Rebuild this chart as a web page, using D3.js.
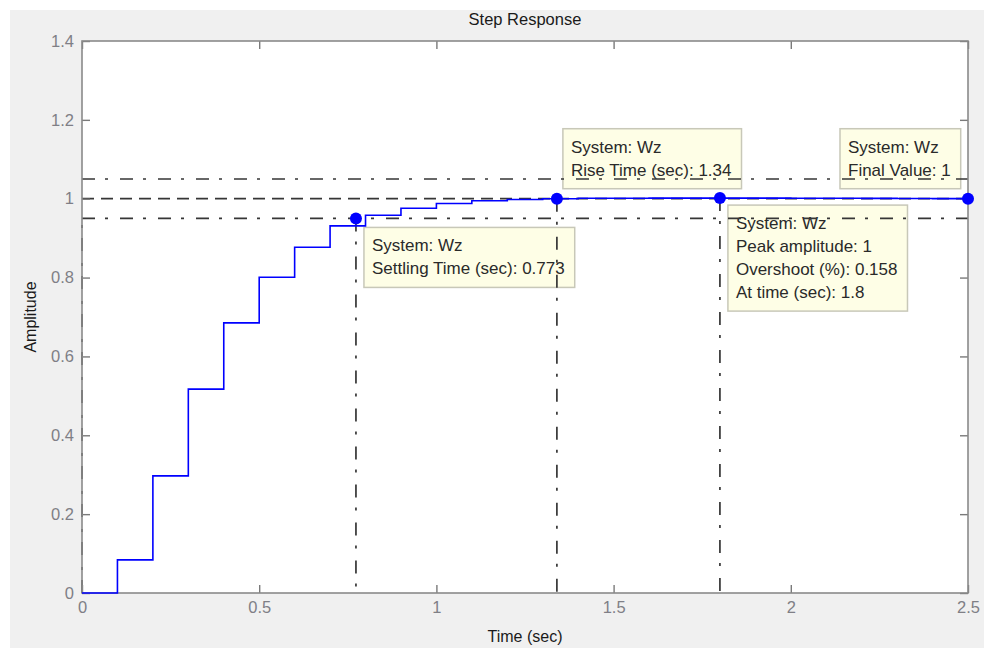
<!DOCTYPE html>
<html>
<head>
<meta charset="utf-8">
<title>Step Response</title>
<script src="https://d3js.org/d3.v7.min.js"></script>
<style>
  body { margin: 0; background: #fff; }
  svg text { font-family: "Liberation Sans", Arial, sans-serif; }
</style>
</head>
<body>
<div id="chart"></div>
<script>
"use strict"

// sampled step response of Wz (Ts = 0.1 s)
var tempos = [0, 0.1, 0.2, 0.3, 0.4, 0.5, 0.6, 0.7, 0.8, 0.9, 1.0, 1.1, 1.2, 1.3,
              1.4, 1.5, 1.6, 1.7, 1.8, 1.9, 2.0, 2.1, 2.2, 2.3, 2.4, 2.5];
var amplitude = [0, 0.084, 0.297, 0.517, 0.685, 0.801, 0.877, 0.931, 0.958, 0.976,
                 0.988, 0.995, 0.998, 1.0, 1.001, 1.0013, 1.0015, 1.0016, 1.00158, 1.0015,
                 1.0013, 1.0011, 1.0008, 1.0005, 1.0003, 1.0];
var xTicks = [0, 0.5, 1, 1.5, 2, 2.5];
var yTicks = [0, 0.2, 0.4, 0.6, 0.8, 1, 1.2, 1.4];

// characteristic points
var settling = { t: 0.773, y: 0.95 };
var rise = { t: 1.34, y: 1.0 };
var peak = { t: 1.8, y: 1.00158 };
var final = { t: 2.5, y: 1.0 };
var faixas = [1.05, 1.0, 0.95];

var dicas = [
  { ponto: settling, linhas: ["System: Wz", "Settling Time (sec): 0.773"] },
  { ponto: rise, linhas: ["System: Wz", "Rise Time (sec): 1.34"] },
  { ponto: peak, linhas: ["System: Wz", "Peak amplitude: 1", "Overshoot (%): 0.158", "At time (sec): 1.8"] },
  { ponto: final, linhas: ["System: Wz", "Final Value: 1"] }
];

var larguraSVG = 984, alturaSVG = 648;
var margin = { top: 41, right: 16, bottom: 55, left: 82 };

var svg = d3.select('#chart').append('svg')
  .attr('width', larguraSVG)
  .attr('height', alturaSVG);

svg.append('rect')
  .attr('x', 10).attr('y', 10)
  .attr('width', larguraSVG - 10).attr('height', alturaSVG - 10)
  .attr('fill', '#f0f0f0');

var x = d3.scaleLinear().domain([0, 2.5]).range([margin.left, larguraSVG - margin.right]);
var y = d3.scaleLinear().domain([0, 1.4]).range([alturaSVG - margin.bottom, margin.top]);

// plot area
svg.append('rect')
  .attr('x', x(0)).attr('y', y(1.4))
  .attr('width', x(2.5) - x(0)).attr('height', y(0) - y(1.4))
  .attr('fill', '#fff');

/*
 * datatips (under the lines, so the lines show through)
 */
var offsets = [[8, 9], [6, -70], [8, 7], [-128, -70]];
dicas.forEach(function (d, i) {
  var px = x(d.ponto.t) + offsets[i][0];
  var py = y(d.ponto.y) + offsets[i][1];
  var g = svg.append('g');
  var caixa = g.append('rect')
    .attr('x', px).attr('y', py)
    .attr('fill', '#fefee6')
    .attr('stroke', '#c8c8b8')
    .attr('stroke-width', 1.5);
  var maior = 0;
  d.linhas.forEach(function (l, j) {
    var t = g.append('text')
      .attr('x', px + 8)
      .attr('y', py + 24 + j * 23)
      .attr('font-size', 17)
      .attr('fill', '#2a2a2a')
      .text(l);
    maior = Math.max(maior, t.node().getComputedTextLength());
  });
  caixa.attr('width', maior + 18).attr('height', 23 * d.linhas.length + 14);
});

/*
 * reference lines
 */
var linhaRef = svg.append('g')
  .attr('stroke', '#363636')
  .attr('stroke-width', 1.7)
  .attr('fill', 'none');

faixas.forEach(function (v) {
  linhaRef.append('line')
    .attr('x1', x(0)).attr('x2', x(2.5))
    .attr('y1', y(v)).attr('y2', y(v))
    .attr('stroke-dasharray', v === 1.0 ? '12,7' : '13,10,3,12');
});

linhaRef.append('line')
  .attr('x1', x(0)).attr('x2', x(0))
  .attr('y1', y(0)).attr('y2', y(0.95))
  .attr('stroke-dasharray', '13,10,3,12');

[settling, rise, peak].forEach(function (p) {
  linhaRef.append('line')
    .attr('x1', x(p.t)).attr('x2', x(p.t))
    .attr('y1', y(p.y)).attr('y2', y(0))
    .attr('stroke-dasharray', '13,10,3,12');
});

/*
 * axes and frame
 */
function estiloEixo(g) {
  g.select('.domain').remove();
  g.selectAll('.tick line').attr('stroke', '#7a7a7a').attr('stroke-width', 1.4);
  g.selectAll('.tick text')
    .attr('fill', '#7f7f86')
    .attr('font-size', 16.5)
    .style('font-family', '"Liberation Sans", Arial, sans-serif');
}

svg.append('g')
  .attr('transform', 'translate(0,' + y(0) + ')')
  .call(d3.axisBottom(x).tickValues(xTicks).tickSize(-8).tickPadding(8).tickFormat(d3.format('')))
  .call(estiloEixo);

svg.append('g')
  .attr('transform', 'translate(0,' + y(1.4) + ')')
  .call(d3.axisTop(x).tickValues(xTicks).tickSize(-8).tickFormat(''))
  .call(estiloEixo);

svg.append('g')
  .attr('transform', 'translate(' + x(0) + ',0)')
  .call(d3.axisLeft(y).tickValues(yTicks).tickSize(-8).tickPadding(8).tickFormat(d3.format('')))
  .call(estiloEixo);

svg.append('g')
  .attr('transform', 'translate(' + x(2.5) + ',0)')
  .call(d3.axisRight(y).tickValues(yTicks).tickSize(-8).tickFormat(''))
  .call(estiloEixo);

svg.append('rect')
  .attr('x', x(0)).attr('y', y(1.4))
  .attr('width', x(2.5) - x(0)).attr('height', y(0) - y(1.4))
  .attr('fill', 'none')
  .attr('stroke', '#8a8a8a')
  .attr('stroke-width', 1.6);

/*
 * step response
 */
var linha = d3.line()
  .x(function (d, i) { return x(tempos[i]); })
  .y(function (d) { return y(d); })
  .curve(d3.curveStepAfter);

svg.append('path')
  .datum(amplitude)
  .attr('d', linha)
  .attr('fill', 'none')
  .attr('stroke', '#0000ff')
  .attr('stroke-width', 1.6);

svg.selectAll('circle.marca')
  .data([settling, rise, peak, final])
  .enter().append('circle')
    .attr('class', 'marca')
    .attr('cx', function (d) { return x(d.t); })
    .attr('cy', function (d) { return y(d.y); })
    .attr('r', 6)
    .attr('fill', '#0000ff');

/*
 * titles
 */
svg.append('text')
  .attr('x', (x(0) + x(2.5)) / 2)
  .attr('y', 25)
  .attr('text-anchor', 'middle')
  .attr('font-size', 16.5)
  .attr('fill', '#1a1a1a')
  .text('Step Response');

svg.append('text')
  .attr('x', (x(0) + x(2.5)) / 2)
  .attr('y', 642)
  .attr('text-anchor', 'middle')
  .attr('font-size', 16)
  .attr('fill', '#1a1a1a')
  .text('Time (sec)');

svg.append('text')
  .attr('transform', 'translate(36,' + (y(0) + y(1.4)) / 2 + ') rotate(-90)')
  .attr('text-anchor', 'middle')
  .attr('font-size', 16)
  .attr('fill', '#1a1a1a')
  .text('Amplitude');
</script>
</body>
</html>
